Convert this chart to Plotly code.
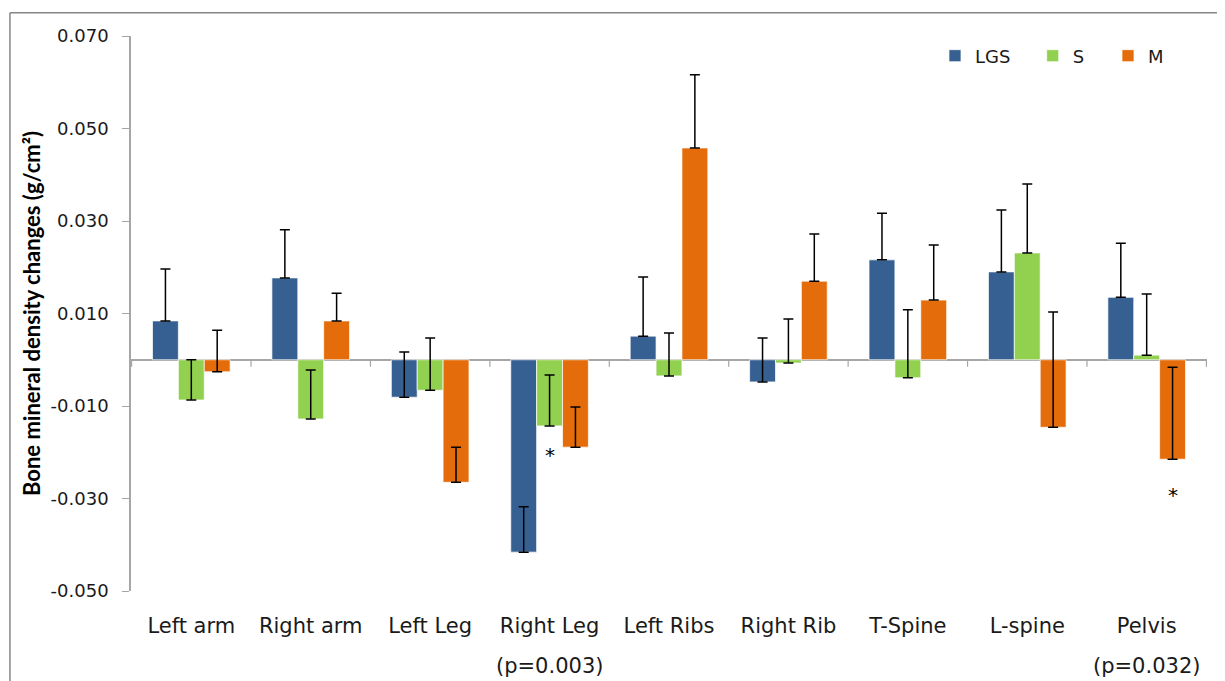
import plotly.graph_objects as go

categories = ["Left arm", "Right arm", "Left Leg", "Right Leg", "Left Ribs",
              "Right Rib", "T-Spine", "L-spine", "Pelvis"]
series_names = ["LGS", "S", "M"]
lgs_values = [0.0084, 0.0177, -0.0081, -0.0416, 0.0051, -0.0048, 0.0216, 0.0190, 0.0135]
lgs_errors = [0.0112, 0.0104, 0.0098, 0.0098, 0.0128, 0.0095, 0.0101, 0.0134, 0.0117]
s_values = [-0.0087, -0.0128, -0.0066, -0.0143, -0.0035, -0.0007, -0.0039, 0.0231, 0.0010]
s_errors = [0.0087, 0.0106, 0.0113, 0.0110, 0.0093, 0.0095, 0.0147, 0.0149, 0.0132]
m_values = [-0.0026, 0.0084, -0.0265, -0.0189, 0.0458, 0.0170, 0.0129, -0.0146, -0.0215]
m_errors = [0.0090, 0.0060, 0.0076, 0.0087, 0.0158, 0.0102, 0.0119, 0.0249, 0.0199]
colors = ["#376092", "#92D050", "#E46C0A"]
y_tick_values = [0.07, 0.05, 0.03, 0.01, -0.01, -0.03, -0.05]
y_tick_labels = ["0.070", "0.050", "0.030", "0.010", "-0.010", "-0.030", "-0.050"]
p_notes = {"Right Leg": "(p=0.003)", "Pelvis": "(p=0.032)"}
stars = [("Right Leg", 0.0, -0.0206), ("Pelvis", 0.22, -0.0292)]

legend_ids = ["legend", "legend2", "legend3"]
legend_x = [0.7472, 0.8380, 0.9080]

fig = go.Figure()
for name, vals, errs, col, lid in zip(series_names, [lgs_values, s_values, m_values],
                                      [lgs_errors, s_errors, m_errors], colors, legend_ids):
    fig.add_trace(go.Bar(
        x=categories, y=vals, name=name, legend=lid,
        marker=dict(color=col, line=dict(color="rgba(255,255,255,0.7)", width=1)),
        error_y=dict(type="data", array=errs, arrayminus=[0] * len(errs), symmetric=False,
                     color="black", thickness=1.5, width=5),
    ))

# category boundary ticks on the zero line
for i in range(len(categories) + 1):
    fig.add_shape(type="line", xref="x", yref="y", x0=i - 0.5, x1=i - 0.5,
                  ysizemode="pixel", yanchor=0, y0=0, y1=-7,
                  line=dict(color="#a6a6a6", width=1.2))

for cat, note in p_notes.items():
    fig.add_annotation(x=cat, xref="x", y=0, yref="paper", yshift=-89,
                       text=note, showarrow=False,
                       font=dict(family="DejaVu Sans", size=21, color="#1a1a1a"))

for cat, off, yv in stars:
    fig.add_annotation(x=categories.index(cat) + off, xref="x", y=yv, yref="y",
                       text="*", showarrow=False,
                       font=dict(family="DejaVu Sans", size=20, color="black"))

# outer chart border (top, left, right edges; bottom is off-canvas)
bx0, bx1, by0, by1 = -0.1125, 1.012, -0.3, 1.042
border = dict(color="#868686", width=1.5)
fig.add_shape(type="line", xref="paper", yref="paper", x0=bx0, x1=bx1, y0=by1, y1=by1, line=border)
fig.add_shape(type="line", xref="paper", yref="paper", x0=bx0, x1=bx0, y0=by0, y1=by1, line=border)
fig.add_shape(type="line", xref="paper", yref="paper", x0=bx1, x1=bx1, y0=by0, y1=by1, line=border)

legend_common = dict(orientation="h", y=0.964, xanchor="left", yanchor="middle",
                     font=dict(size=18, family="DejaVu Sans", color="#1a1a1a"),
                     bgcolor="rgba(0,0,0,0)")

fig.update_layout(
    width=1225, height=681,
    margin=dict(l=123, r=26, t=28, b=98, autoexpand=False),
    paper_bgcolor="white", plot_bgcolor="white",
    barmode="group", bargap=0.35, bargroupgap=0,
    font=dict(family="DejaVu Sans", color="#1a1a1a"),
    legend=dict(x=legend_x[0], **legend_common),
    legend2=dict(x=legend_x[1], **legend_common),
    legend3=dict(x=legend_x[2], **legend_common),
    showlegend=True,
)
fig.update_xaxes(showline=False, ticks="", showgrid=False, zeroline=False, tickangle=0,
                 tickfont=dict(size=21, family="DejaVu Sans", color="#1a1a1a"),
                 ticklabelstandoff=20)
fig.update_yaxes(range=[-0.05, 0.07], tickvals=y_tick_values, ticktext=y_tick_labels,
                 showgrid=False, zeroline=True, zerolinecolor="#a6a6a6", zerolinewidth=1.5,
                 showline=True, linecolor="#a6a6a6", linewidth=1.5,
                 ticks="outside", ticklen=7, tickcolor="#a6a6a6",
                 tickfont=dict(size=18, family="DejaVu Sans", color="#1a1a1a"),
                 ticklabelstandoff=10,
                 title=dict(text="<b>Bone mineral density changes (g/cm²)</b>",
                            font=dict(size=22, family="Lato", color="black"),
                            standoff=4))

fig.write_html("out.html")
